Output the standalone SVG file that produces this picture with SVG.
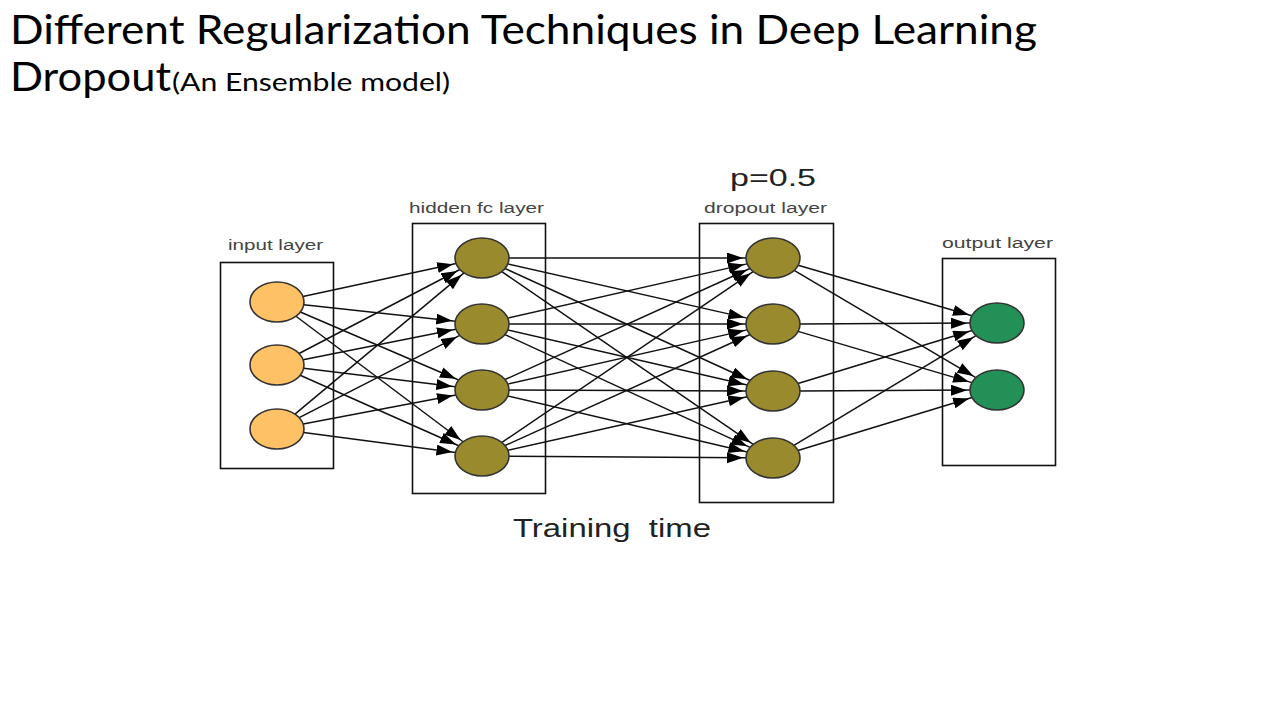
<svg xmlns="http://www.w3.org/2000/svg" width="1280" height="720" viewBox="0 0 1280 720">
<style>
.title{font-family:Lato,"Liberation Sans",sans-serif;fill:#000}
.lbl{font-family:"Liberation Sans",Arial,sans-serif;font-size:14px;fill:#444}
.big{font-family:"Liberation Sans",Arial,sans-serif;fill:#222}
.box{fill:none;stroke:#111;stroke-width:1.6}
.in{fill:#FFC166;stroke:#333;stroke-width:1.6}
.hid{fill:#9A8A2E;stroke:#333;stroke-width:1.6}
.out{fill:#229057;stroke:#333;stroke-width:1.6}
#connectors line{stroke:#111;stroke-width:1.5;marker-end:url(#ah)}
</style>
<defs>
<marker id="ah" markerUnits="userSpaceOnUse" markerWidth="22" markerHeight="14" refX="19" refY="5.5" orient="auto">
<path d="M0,0 L16,5.5 L0,11 z" fill="#000"/>
</marker>
</defs>
<rect width="1280" height="720" fill="#fff"/>
<text class="title" x="10" y="44" font-size="41" textLength="1027" lengthAdjust="spacingAndGlyphs">Different Regularization Techniques in Deep Learning</text>
<text class="title" x="10" y="91" font-size="41" textLength="161" lengthAdjust="spacingAndGlyphs">Dropout</text>
<text class="title" x="172" y="91" font-size="25" textLength="278" lengthAdjust="spacingAndGlyphs">(An Ensemble model)</text>

<g id="input-layer">
<rect class="box" x="220.5" y="262.5" width="113" height="206"/>
<text class="lbl" x="228" y="250" textLength="95" lengthAdjust="spacingAndGlyphs">input layer</text>
</g>
<g id="hidden-layer">
<rect class="box" x="412.5" y="223.5" width="133" height="270"/>
<text class="lbl" x="409" y="213" textLength="135" lengthAdjust="spacingAndGlyphs">hidden fc layer</text>
</g>
<g id="dropout-layer">
<rect class="box" x="699.5" y="223.5" width="134" height="279"/>
<text class="lbl" x="704" y="213" textLength="123" lengthAdjust="spacingAndGlyphs">dropout layer</text>
<text class="big" x="730" y="186" font-size="24" textLength="86" lengthAdjust="spacingAndGlyphs">p=0.5</text>
</g>
<g id="output-layer">
<rect class="box" x="942.5" y="258.5" width="113" height="207"/>
<text class="lbl" x="942" y="248" textLength="111" lengthAdjust="spacingAndGlyphs">output layer</text>
</g>
<text class="big" x="513" y="537" font-size="26" textLength="198" lengthAdjust="spacingAndGlyphs" xml:space="preserve">Training  time</text>

<g id="connectors">
<line x1="302.93" y1="296.43" x2="456.07" y2="263.57"/>
<line x1="303.72" y1="304.87" x2="455.28" y2="321.13"/>
<line x1="300.36" y1="312.03" x2="458.64" y2="379.97"/>
<line x1="295.96" y1="316.24" x2="463.04" y2="441.76"/>
<line x1="299.07" y1="353.48" x2="459.93" y2="269.52"/>
<line x1="303.07" y1="359.79" x2="455.93" y2="329.21"/>
<line x1="303.64" y1="368.25" x2="455.36" y2="386.75"/>
<line x1="300.16" y1="375.28" x2="458.84" y2="445.72"/>
<line x1="294.93" y1="414.05" x2="464.07" y2="272.95"/>
<line x1="299.21" y1="417.63" x2="459.79" y2="335.37"/>
<line x1="303.15" y1="424.02" x2="455.85" y2="394.98"/>
<line x1="303.58" y1="432.50" x2="455.42" y2="452.50"/>

<line x1="509" y1="258" x2="746" y2="258"/>
<line x1="507.82" y1="263.86" x2="747.18" y2="318.14"/>
<line x1="504.98" y1="268.50" x2="750.02" y2="380.50"/>
<line x1="501.79" y1="271.60" x2="753.21" y2="444.40"/>
<line x1="507.82" y1="318.14" x2="747.18" y2="263.86"/>
<line x1="509" y1="324" x2="746" y2="324"/>
<line x1="507.78" y1="329.94" x2="747.22" y2="385.06"/>
<line x1="504.93" y1="334.56" x2="750.07" y2="447.44"/>
<line x1="505.03" y1="379.55" x2="749.97" y2="268.45"/>
<line x1="507.82" y1="384.14" x2="747.18" y2="329.86"/>
<line x1="509" y1="390.09" x2="746" y2="390.91"/>
<line x1="507.75" y1="396.02" x2="747.25" y2="451.98"/>
<line x1="501.88" y1="442.47" x2="753.12" y2="271.53"/>
<line x1="505.03" y1="445.55" x2="749.97" y2="334.45"/>
<line x1="507.85" y1="450.23" x2="747.15" y2="396.77"/>
<line x1="509" y1="456.19" x2="746" y2="457.81"/>

<line x1="798.14" y1="265.29" x2="971.86" y2="315.71"/>
<line x1="794.13" y1="270.45" x2="975.87" y2="377.55"/>
<line x1="800" y1="323.88" x2="970" y2="323.12"/>
<line x1="798.09" y1="331.39" x2="971.91" y2="382.61"/>
<line x1="797.98" y1="383.42" x2="972.02" y2="330.58"/>
<line x1="800" y1="390.88" x2="970" y2="390.12"/>
<line x1="793.94" y1="445.38" x2="976.06" y2="335.62"/>
<line x1="797.98" y1="450.42" x2="972.02" y2="397.58"/>
</g>

<g id="in1"><ellipse class="in" cx="277" cy="302" rx="27" ry="20"/></g>
<g id="in2"><ellipse class="in" cx="277" cy="365" rx="27" ry="20"/></g>
<g id="in3"><ellipse class="in" cx="277" cy="429" rx="27" ry="20"/></g>
<g id="h1"><ellipse class="hid" cx="482" cy="258" rx="27" ry="20"/></g>
<g id="h2"><ellipse class="hid" cx="482" cy="324" rx="27" ry="20"/></g>
<g id="h3"><ellipse class="hid" cx="482" cy="390" rx="27" ry="20"/></g>
<g id="h4"><ellipse class="hid" cx="482" cy="456" rx="27" ry="20"/></g>
<g id="d1"><ellipse class="hid" cx="773" cy="258" rx="27" ry="20"/></g>
<g id="d2"><ellipse class="hid" cx="773" cy="324" rx="27" ry="20"/></g>
<g id="d3"><ellipse class="hid" cx="773" cy="391" rx="27" ry="20"/></g>
<g id="d4"><ellipse class="hid" cx="773" cy="458" rx="27" ry="20"/></g>
<g id="o1"><ellipse class="out" cx="997" cy="323" rx="27" ry="20"/></g>
<g id="o2"><ellipse class="out" cx="997" cy="390" rx="27" ry="20"/></g>
</svg>
